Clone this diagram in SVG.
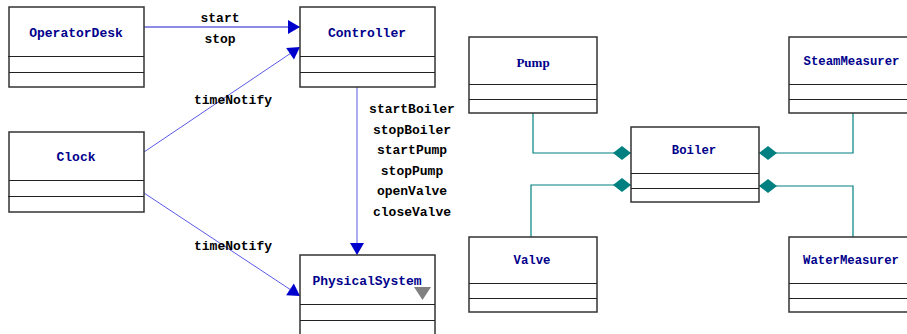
<svg xmlns="http://www.w3.org/2000/svg" width="907" height="334" viewBox="0 0 907 334">
  <style>
    .box { fill: #ffffff; stroke: #333333; stroke-width: 1.5; }
    .sep { stroke: #222222; stroke-width: 1.2; }
    .name { font-family: "Liberation Mono", "DejaVu Sans Mono", monospace; font-weight: bold; font-size: 13px; fill: #00008b; text-anchor: middle; dominant-baseline: central; }
    .name-sm { font-size: 12.3px; }
    .serif { font-family: "Liberation Serif", "DejaVu Serif", serif; }
    .msg { font-family: "Liberation Mono", "DejaVu Sans Mono", monospace; font-weight: bold; font-size: 13px; fill: #000000; text-anchor: middle; dominant-baseline: central; }
    .flow { stroke: #1a1acc; stroke-width: 1.2; fill: none; marker-end: url(#arrow); }
    .flow-light { stroke: #5a5ae6; stroke-width: 1; }
    .agg { stroke: #008080; stroke-width: 1.2; fill: none; marker-end: url(#diamond); }
  </style>
  <defs>
    <marker id="arrow" markerUnits="userSpaceOnUse" markerWidth="13" markerHeight="15" refX="12" refY="7" orient="auto" overflow="visible">
      <path d="M0,0 L12,7 L0,14 z" fill="#0000cc"/>
    </marker>
    <marker id="diamond" markerUnits="userSpaceOnUse" markerWidth="19" markerHeight="15" refX="18" refY="7" orient="auto" overflow="visible">
      <path d="M0,7 L9,0 L18,7 L9,14 z" fill="#008080"/>
    </marker>
  </defs>

  <rect width="907" height="334" fill="#ffffff"/>

  <!-- connectors -->
  <g id="connectors">
    <line class="flow" x1="144" y1="27" x2="300" y2="27"/>
    <line class="flow flow-light" x1="144" y1="152" x2="300" y2="47"/>
    <line class="flow flow-light" x1="144" y1="193" x2="300" y2="296"/>
    <line class="flow flow-light" x1="357" y1="87" x2="357" y2="255"/>

    <polyline class="agg" points="533,113 533,153 631,153"/>
    <polyline class="agg" points="531,237 531,185 631,185"/>
    <polyline class="agg" points="853,113 853,153 759,153"/>
    <polyline class="agg" points="853,237 853,186 759,186"/>

    <text class="msg" x="220" y="18">start</text>
    <text class="msg" x="220" y="39">stop</text>
    <text class="msg" x="233" y="100">timeNotify</text>
    <text class="msg" x="233" y="246">timeNotify</text>
    <text class="msg" x="412" y="109">startBoiler</text>
    <text class="msg" x="412" y="130">stopBoiler</text>
    <text class="msg" x="412" y="150">startPump</text>
    <text class="msg" x="412" y="171">stopPump</text>
    <text class="msg" x="412" y="191">openValve</text>
    <text class="msg" x="412" y="212">closeValve</text>
  </g>

  <!-- classes -->
  <g id="OperatorDesk">
    <rect class="box" x="9" y="7" width="135" height="80"/>
    <line class="sep" x1="8" y1="56.5" x2="144" y2="56.5"/>
    <line class="sep" x1="9" y1="72.5" x2="144" y2="72.5"/>
    <text class="name" x="76" y="33">OperatorDesk</text>
  </g>

  <g id="Controller">
    <rect class="box" x="300" y="7" width="135" height="80"/>
    <line class="sep" x1="300" y1="56.5" x2="435" y2="56.5"/>
    <line class="sep" x1="300" y1="72.5" x2="435" y2="72.5"/>
    <text class="name" x="367" y="33">Controller</text>
  </g>

  <g id="Clock">
    <rect class="box" x="9" y="132" width="135" height="80"/>
    <line class="sep" x1="9" y1="180.5" x2="144" y2="180.5"/>
    <line class="sep" x1="8" y1="196.5" x2="144" y2="196.5"/>
    <text class="name" x="76" y="157">Clock</text>
  </g>

  <g id="PhysicalSystem">
    <rect class="box" x="300" y="255" width="135" height="82"/>
    <line class="sep" x1="300" y1="304.5" x2="435" y2="304.5"/>
    <line class="sep" x1="300" y1="320.5" x2="435" y2="320.5"/>
    <text class="name" x="367" y="281">PhysicalSystem</text>
    <polygon points="414,287 431,287 422.5,300" fill="#808080"/>
  </g>

  <g id="Pump">
    <rect class="box" x="469" y="37" width="128" height="76"/>
    <line class="sep" x1="469" y1="84.5" x2="597" y2="84.5"/>
    <line class="sep" x1="469" y1="99.5" x2="597" y2="99.5"/>
    <text class="name serif" x="533" y="62" font-size="12">Pump</text>
  </g>

  <g id="Boiler">
    <rect class="box" x="631" y="127" width="128" height="75"/>
    <line class="sep" x1="631" y1="173.5" x2="759" y2="173.5"/>
    <line class="sep" x1="631" y1="188.5" x2="759" y2="188.5"/>
    <text class="name name-sm" x="694" y="151">Boiler</text>
  </g>

  <g id="SteamMeasurer">
    <rect class="box" x="789" y="37" width="130" height="76"/>
    <line class="sep" x1="789" y1="84.5" x2="907" y2="84.5"/>
    <line class="sep" x1="789" y1="99.5" x2="907" y2="99.5"/>
    <text class="name name-sm" x="851.5" y="62">SteamMeasurer</text>
  </g>

  <g id="Valve">
    <rect class="box" x="469" y="237" width="128" height="75"/>
    <line class="sep" x1="469" y1="283.5" x2="597" y2="283.5"/>
    <line class="sep" x1="469" y1="298.5" x2="597" y2="298.5"/>
    <text class="name name-sm" x="532" y="261">Valve</text>
  </g>

  <g id="WaterMeasurer">
    <rect class="box" x="789" y="237" width="130" height="75"/>
    <line class="sep" x1="789" y1="283.5" x2="907" y2="283.5"/>
    <line class="sep" x1="789" y1="298.5" x2="907" y2="298.5"/>
    <text class="name name-sm" x="851" y="261">WaterMeasurer</text>
  </g>
</svg>
